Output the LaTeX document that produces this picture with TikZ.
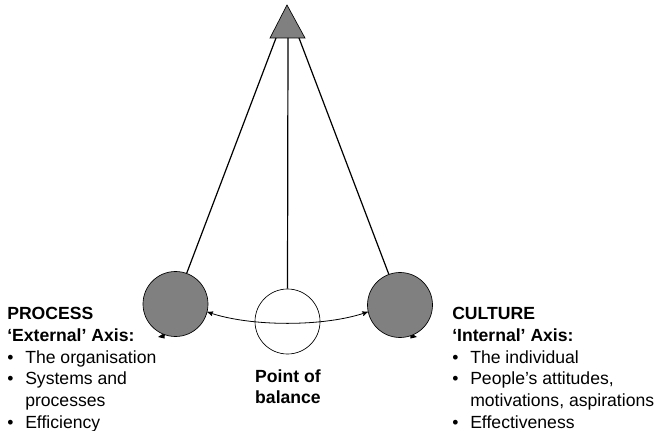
\documentclass[tikz,border=0pt]{standalone}
\usepackage{fontspec}
\setmainfont{Liberation Sans}
\usetikzlibrary{arrows,positioning}
\definecolor{bobgray}{HTML}{808080}
\tikzset
{
    bob/.style     = {circle, draw=black, fill=bobgray, minimum size=48.75pt, inner sep=0pt, line width=0.5pt},
    rest/.style    = {circle, draw=black, fill=white, minimum size=48.75pt, inner sep=0pt, line width=0.5pt},
    rod/.style     = {draw=black, line width=0.9pt},
    axistext/.style = {align=left, inner sep=0pt, font=\fontsize{13.2}{16.3}\selectfont}
}
\newcommand{\bul}{\makebox[13.5pt][l]{•}}
\newcommand{\bulgap}{\hspace*{13.5pt}}

\begin{document}
\begin{tikzpicture}[x=0.75pt, y=-0.75pt, >=stealth']
    \useasboundingbox (0,0) rectangle (660,431);
    % pivot
    \filldraw [fill=bobgray, draw=black, line width=0.5pt] (287,5) -- (270,38) -- (305,38) -- cycle;
    \coordinate (pivotL) at (276,38);
    \coordinate (pivotM) at (288,38);
    \coordinate (pivotR) at (299,38);
    % hidden swing tips
    \fill (158,337) -- (165,332.5) -- (164.5,338.5) -- cycle;
    \fill (417,337) -- (410,332.5) -- (410.5,338.5) -- cycle;
    % bobs
    \node [bob]  (left)   at (175.5,304) {};
    \node [rest] (centre) at (287.5,321.5) {};
    \node [bob]  (right)  at (400,305) {};
    \draw [rod] (pivotL) -- (left.70);
    \draw [rod] (pivotM) -- (centre.north);
    \draw [rod] (pivotR) -- (right.110);
    \draw [<->, line width=0.6pt] (left.-14) .. controls (250,327) and (325,327) .. (right.192);
    % texts
    \node [axistext, anchor=north west] (process) at (7,307)
    {
        \textbf{PROCESS}\\
        \textbf{`External' Axis:}\\
        \bul The organisation\\
        \bul Systems and\\
        \bulgap processes\\
        \bul Efficiency
    };
    \node [axistext, anchor=north west] (culture) at (452,307)
    {
        \textbf{CULTURE}\\
        \textbf{`Internal' Axis:}\\
        \bul The individual\\
        \bul People’s attitudes,\\
        \bulgap motivations, aspirations\\
        \bul Effectiveness
    };
    \node [axistext, align=center, anchor=north] (balance) at (288,369)
    {
        \textbf{Point of}\\
        \textbf{balance}
    };
\end{tikzpicture}
\end{document}
